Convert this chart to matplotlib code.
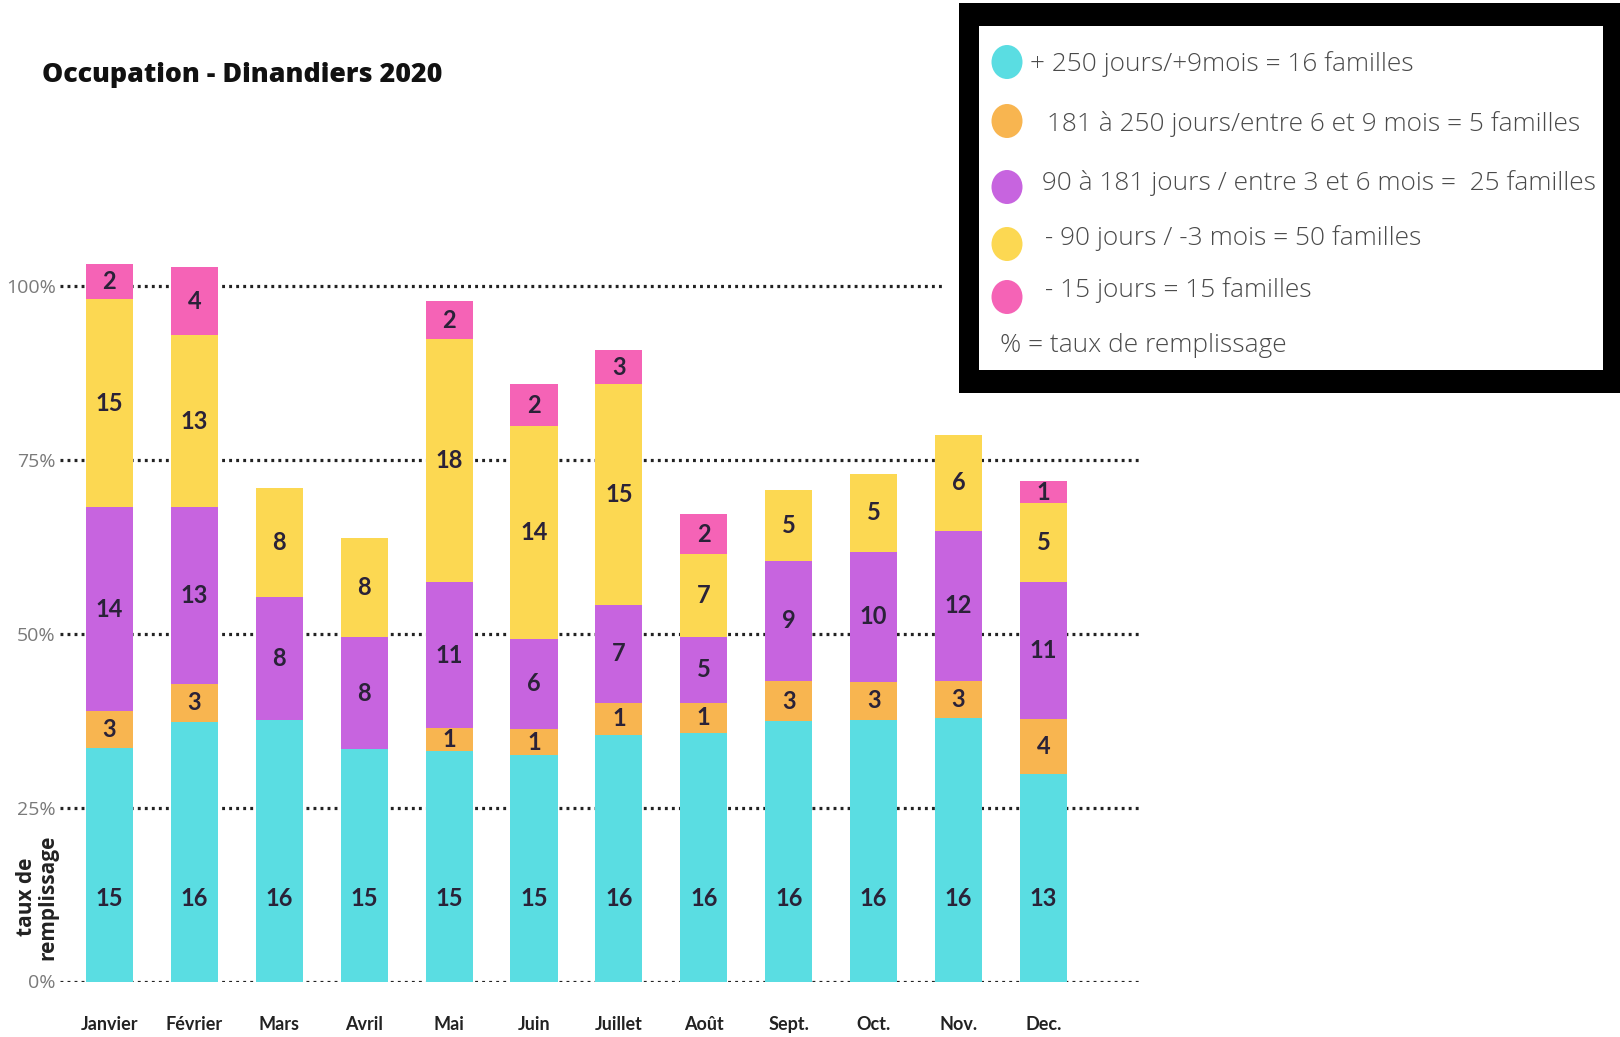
import matplotlib
matplotlib.use("Agg")
import matplotlib.pyplot as plt
from matplotlib import font_manager as fm
from matplotlib.patches import Rectangle, Ellipse
import numpy as np

# ---------------- data ----------------
months = ['Janvier', 'Février', 'Mars', 'Avril', 'Mai', 'Juin', 'Juillet',
          'Août', 'Sept.', 'Oct.', 'Nov.', 'Dec.']

# segment heights (taux de remplissage, %)
cyan_pct   = [33.6, 37.3, 37.6, 33.4, 33.1, 32.5, 35.5, 35.7, 37.4, 37.6, 37.9, 29.9]
orange_pct = [5.3, 5.5, 0.0, 0.0, 3.3, 3.8, 4.5, 4.4, 5.8, 5.5, 5.3, 7.8]
purple_pct = [29.3, 25.4, 17.7, 16.1, 21.0, 13.0, 14.2, 9.5, 17.3, 18.7, 21.6, 19.8]
yellow_pct = [29.9, 24.7, 15.7, 14.2, 35.0, 30.5, 31.7, 11.8, 10.2, 11.2, 13.8, 11.3]
pink_pct   = [5.0, 9.8, 0.0, 0.0, 5.4, 6.1, 4.9, 5.8, 0.0, 0.0, 0.0, 3.1]

# number of families per segment
cyan_n   = [15, 16, 16, 15, 15, 15, 16, 16, 16, 16, 16, 13]
orange_n = [3, 3, 0, 0, 1, 1, 1, 1, 3, 3, 3, 4]
purple_n = [14, 13, 8, 8, 11, 6, 7, 5, 9, 10, 12, 11]
yellow_n = [15, 13, 8, 8, 18, 14, 15, 7, 5, 5, 6, 5]
pink_n   = [2, 4, 0, 0, 2, 2, 3, 2, 0, 0, 0, 1]

ytick_vals = [0, 25, 50, 75, 100]
ytick_labels = ['0%', '25%', '50%', '75%', '100%']

legend_labels = ['+ 250 jours/+9mois = 16 familles',
                 ' 181 à 250 jours/entre 6 et 9 mois = 5 familles',
                 ' 90 à 181 jours / entre 3 et 6 mois =  25 familles',
                 ' - 90 jours / -3 mois = 50 familles',
                 ' - 15 jours = 15 familles']
legend_note = '% = taux de remplissage'
title = 'Occupation - Dinandiers 2020'

# ---------------- style ----------------
C_CYAN = '#5ADDE2'
C_ORANGE = '#F8B550'
C_PURPLE = '#C764DF'
C_YELLOW = '#FCD852'
C_PINK = '#F563B6'
colors = [C_CYAN, C_ORANGE, C_PURPLE, C_YELLOW, C_PINK]
NUM_COLOR = '#2a2238'

names = {f.name for f in fm.fontManager.ttflist}
light_family = 'Liberation Sans Narrow' if 'Liberation Sans Narrow' in names else 'Open Sans'
bold_family = 'Open Sans' if 'Open Sans' in names else 'DejaVu Sans'
num_family = 'Lato' if 'Lato' in names else 'DejaVu Sans'

W, H = 1620, 1037
fig = plt.figure(figsize=(W / 100, H / 100), dpi=100)
fig.patch.set_facecolor('white')

def fx(x):
    return x / W

def fy(y):
    return 1 - y / H

# axes: 0% at y=981.5 px, 6.955 px per %
y0 = 981.5
ppp = 6.955
ymax = 110
ax_left, ax_right = 60, 1142
ax = fig.add_axes([fx(ax_left), fy(y0), (ax_right - ax_left) / W, ymax * ppp / H])
step = 84.9
x_first = 109.5
ax.set_xlim((ax_left - x_first) / step, (ax_right - x_first) / step)
ax.set_ylim(0, ymax)
for s in ax.spines.values():
    s.set_visible(False)
ax.set_facecolor('none')

x = np.arange(len(months))
width = 0.555

# dotted grid lines
for v in ytick_vals:
    xmax = (945 - x_first) / step if v == 100 else ax.get_xlim()[1]
    ax.hlines(v, ax.get_xlim()[0], xmax, colors='#222222', linewidth=2.3,
              linestyles=(0, (0.9, 1.3)), zorder=1)

series_pct = [cyan_pct, orange_pct, purple_pct, yellow_pct, pink_pct]
series_n = [cyan_n, orange_n, purple_n, yellow_n, pink_n]
bottom = np.zeros(len(months))
for k, (pct, nn, col) in enumerate(zip(series_pct, series_n, colors)):
    pct = np.array(pct)
    ax.bar(x, pct, width=width, bottom=bottom, color=col, zorder=2, linewidth=0)
    for i in range(len(months)):
        if nn[i] > 0:
            ypos = 12.0 if k == 0 else bottom[i] + pct[i] / 2
            ax.text(x[i], ypos, str(nn[i]), ha='center', va='center',
                    fontsize=17, color=NUM_COLOR, family=num_family,
                    fontweight='bold', zorder=3)
    bottom = bottom + pct

ax.set_yticks(ytick_vals)
ax.set_yticklabels(ytick_labels, fontsize=14, color='#7a7a7a', family=light_family)
ax.tick_params(axis='y', length=0, pad=3)
ax.set_xticks(x)
ax.set_xticklabels(months, fontsize=13, color='#222222', family=num_family,
                   fontweight='bold')
ax.tick_params(axis='x', length=0, pad=25)

# y-axis label
fig.text(fx(37), fy(897), 'taux de\nremplissage', rotation=90, ha='center',
         va='center', multialignment='center', fontsize=15, fontweight='bold',
         color='#222222', family=bold_family, linespacing=1.0)

# title
fig.text(fx(42), fy(75), title, ha='left', va='center', fontsize=19.3,
         fontweight='heavy', color='#111111', family=bold_family)

# legend box
fig.add_artist(Rectangle((fx(959), fy(393)), (W - 959) / W, (393 - 3) / H,
                         transform=fig.transFigure, facecolor='black',
                         edgecolor='none', zorder=5))
fig.add_artist(Rectangle((fx(979), fy(370)), (1603 - 979) / W, (370 - 26) / H,
                         transform=fig.transFigure, facecolor='white',
                         edgecolor='none', zorder=6))
circle_y = [62, 121, 187, 244, 297]
text_x = [1030, 1040, 1035, 1038, 1038]
text_y = [64, 124, 183, 238, 290]
texts = []
for cy, col, lab, tx, ty in zip(circle_y, colors, legend_labels, text_x, text_y):
    fig.add_artist(Ellipse((fx(1007), fy(cy)), 31 / W, 34 / H,
                           transform=fig.transFigure, facecolor=col,
                           edgecolor='none', zorder=7))
    texts.append(fig.text(fx(tx), fy(ty), lab, ha='left', va='center',
                          fontsize=22, color='#4a4a4a', family=light_family,
                          fontweight='light', zorder=8))
texts.append(fig.text(fx(1000), fy(345), legend_note, ha='left', va='center',
                      fontsize=22, color='#4a4a4a', family=light_family,
                      fontweight='light', zorder=8))

# fit legend text width to the box (longest line ends near x=1593 px)
renderer = fig.canvas.get_renderer()
bb = texts[2].get_window_extent(renderer)
target = 1593 - 1035
scale = min(1.0, target / bb.width)
for t in texts:
    t.set_fontsize(22 * scale)

fig.savefig('out.png', dpi=100, facecolor='white')
